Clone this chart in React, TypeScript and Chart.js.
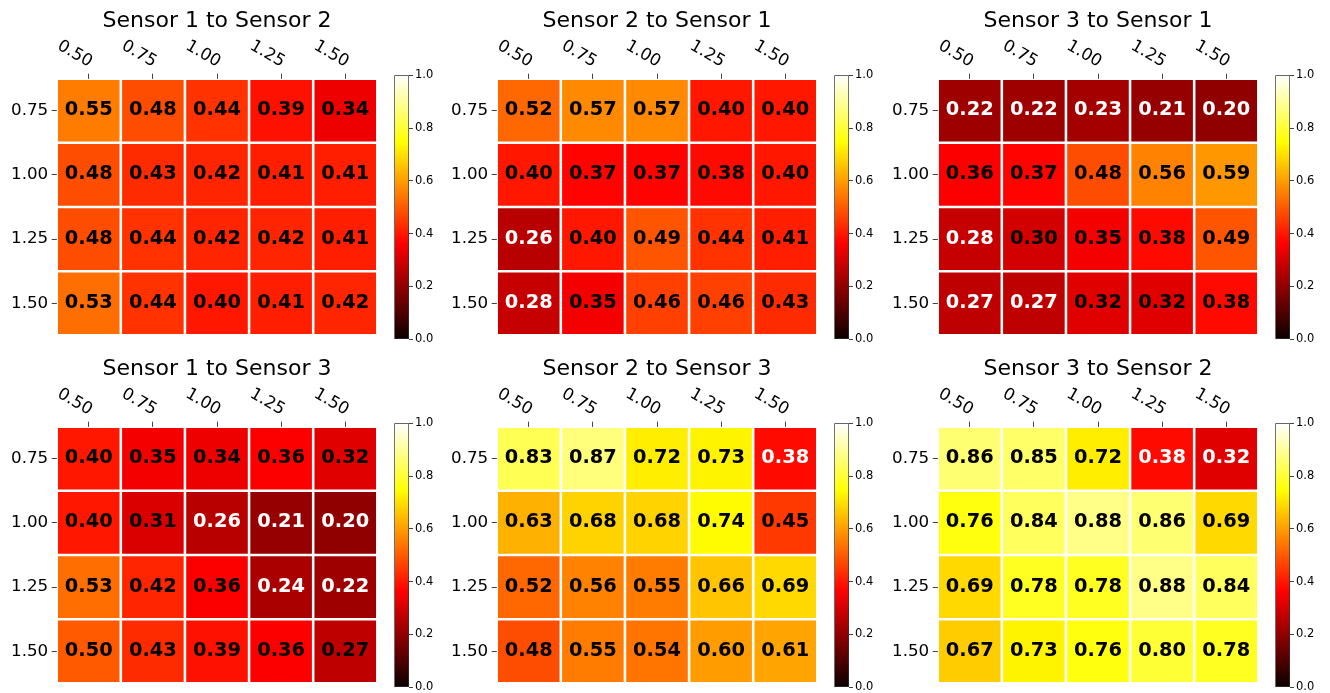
import React, { useEffect, useRef } from "react";
import { Chart, registerables } from "chart.js";

Chart.register(...registerables);
Chart.defaults.font.family = "'DejaVu Sans', sans-serif";

// ---- data ----
const xLabels = ["0.50", "0.75", "1.00", "1.25", "1.50"];
const yLabels = ["0.75", "1.00", "1.25", "1.50"];
const colorbarTicks = [0, 0.2, 0.4, 0.6, 0.8, 1.0];

const titles = [
  "Sensor 1 to Sensor 2",
  "Sensor 2 to Sensor 1",
  "Sensor 3 to Sensor 1",
  "Sensor 1 to Sensor 3",
  "Sensor 2 to Sensor 3",
  "Sensor 3 to Sensor 2",
];

const s1to2 = [
  [0.55, 0.48, 0.44, 0.39, 0.34],
  [0.48, 0.43, 0.42, 0.41, 0.41],
  [0.48, 0.44, 0.42, 0.42, 0.41],
  [0.53, 0.44, 0.40, 0.41, 0.42],
];
const s2to1 = [
  [0.52, 0.57, 0.57, 0.40, 0.40],
  [0.40, 0.37, 0.37, 0.38, 0.40],
  [0.26, 0.40, 0.49, 0.44, 0.41],
  [0.28, 0.35, 0.46, 0.46, 0.43],
];
const s3to1 = [
  [0.22, 0.22, 0.23, 0.21, 0.20],
  [0.36, 0.37, 0.48, 0.56, 0.59],
  [0.28, 0.30, 0.35, 0.38, 0.49],
  [0.27, 0.27, 0.32, 0.32, 0.38],
];
const s1to3 = [
  [0.40, 0.35, 0.34, 0.36, 0.32],
  [0.40, 0.31, 0.26, 0.21, 0.20],
  [0.53, 0.42, 0.36, 0.24, 0.22],
  [0.50, 0.43, 0.39, 0.36, 0.27],
];
const s2to3 = [
  [0.83, 0.87, 0.72, 0.73, 0.38],
  [0.63, 0.68, 0.68, 0.74, 0.45],
  [0.52, 0.56, 0.55, 0.66, 0.69],
  [0.48, 0.55, 0.54, 0.60, 0.61],
];
const s3to2 = [
  [0.86, 0.85, 0.72, 0.38, 0.32],
  [0.76, 0.84, 0.88, 0.86, 0.69],
  [0.69, 0.78, 0.78, 0.88, 0.84],
  [0.67, 0.73, 0.76, 0.80, 0.78],
];
const matrices = [s1to2, s2to1, s3to1, s1to3, s2to3, s3to2];
// values below this cutoff get white annotation text
const whiteTextBelow = [0.3, 0.3, 0.29, 0.265, 0.4, 0.4];

// ---- matplotlib "hot" colormap ----
const HOT_STOPS: [number, number[]][] = [
  [0, [10.6, 0, 0]],
  [0.365079, [255, 0, 0]],
  [0.746032, [255, 255, 0]],
  [1, [255, 255, 255]],
];
function hot(v: number): string {
  const t = Math.max(0, Math.min(1, v));
  for (let i = 0; i < HOT_STOPS.length - 1; i++) {
    const [a, ca] = HOT_STOPS[i];
    const [b, cb] = HOT_STOPS[i + 1];
    if (t <= b) {
      const f = (t - a) / (b - a);
      const c = ca.map((x, k) => Math.round(x + (cb[k] - x) * f));
      return `rgb(${c[0]},${c[1]},${c[2]})`;
    }
  }
  return "rgb(255,255,255)";
}

const FONT = "'DejaVu Sans', sans-serif";
const TICK_COLOR = "#444";

function noPad(s: any) {
  s.paddingTop = 0;
  s.paddingBottom = 0;
  s.paddingLeft = 0;
  s.paddingRight = 0;
}

function Heatmap({ idx }: { idx: number }) {
  const heatRef = useRef<HTMLCanvasElement>(null);
  const barRef = useRef<HTMLCanvasElement>(null);
  const col = idx % 3;
  const row = Math.floor(idx / 3);
  const left = [0, 440, 881][col];
  const top = row * 348;

  useEffect(() => {
    const values = matrices[idx];
    const cutoff = whiteTextBelow[idx];

    const annotate = {
      id: "annotate",
      afterDatasetsDraw(chart: any) {
        const ctx = chart.ctx;
        ctx.save();
        ctx.font = `bold 19.4px ${FONT}`;
        ctx.textAlign = "center";
        ctx.textBaseline = "middle";
        chart.data.datasets.forEach((_: any, r: number) => {
          const meta = chart.getDatasetMeta(r);
          meta.data.forEach((bar: any, c: number) => {
            const p = bar.getProps(["x", "y", "base"], true);
            const v = values[r][c];
            ctx.fillStyle = v < cutoff ? "#fff" : "#000";
            ctx.fillText(v.toFixed(2), p.x, (p.y + p.base) / 2 - 0.5);
          });
        });
        ctx.restore();
      },
    };
    const topLabels = {
      id: "topLabels",
      afterDraw(chart: any) {
        const ctx = chart.ctx;
        const xs = chart.scales.x;
        ctx.save();
        ctx.font = `16.7px ${FONT}`;
        ctx.fillStyle = "#000";
        ctx.textAlign = "right";
        ctx.textBaseline = "alphabetic";
        xLabels.forEach((lab, i) => {
          const px = xs.getPixelForTick(i);
          ctx.save();
          ctx.translate(px, chart.chartArea.top - 11.7);
          ctx.rotate(Math.PI / 6);
          ctx.fillText(lab, 0, 0);
          ctx.restore();
        });
        ctx.restore();
      },
    };

    const heat = new Chart(heatRef.current!, {
      type: "bar",
      data: {
        labels: xLabels,
        datasets: yLabels.map((_, r) => ({
          label: yLabels[r],
          data: xLabels.map(() => [r, r + 1]),
          backgroundColor: values[r].map(hot),
          borderColor: "#ffffff",
          borderWidth: 1.6,
          borderSkipped: false,
          barPercentage: 1,
          categoryPercentage: 1,
          grouped: false,
        })) as any,
      },
      options: {
        responsive: false,
        animation: false,
        indexAxis: "x",
        layout: { padding: { left: 0, right: 2.7, top: 0, bottom: 4.7 } },
        plugins: {
          legend: { display: false },
          tooltip: { enabled: false },
          title: {
            display: true,
            fullSize: false,
            text: titles[idx],
            color: "#000",
            font: { size: 22, family: FONT, weight: "normal" as any },
            padding: { top: 8, bottom: 0 },
          },
        },
        scales: {
          x: {
            type: "category",
            position: "top",
            offset: true,
            ticks: { display: false },
            grid: {
              drawOnChartArea: false,
              drawTicks: true,
              tickLength: 5,
              tickColor: TICK_COLOR,
              tickWidth: 1,
              offset: false,
            },
            border: { display: false },
            afterFit: (s: any) => {
              s.height = 44.3;
              noPad(s);
            },
          },
          y: {
            type: "linear",
            min: 0,
            max: 4,
            reverse: true,
            afterBuildTicks: (s: any) => {
              s.ticks = yLabels.map((_, i) => ({ value: i + 0.5 }));
            },
            ticks: {
              autoSkip: false,
              color: "#000",
              font: { size: 16.7, family: FONT },
              padding: 3.5,
              callback: (_v: any, i: number) => yLabels[i],
            },
            grid: {
              drawOnChartArea: false,
              drawTicks: true,
              tickLength: 5,
              tickColor: TICK_COLOR,
              tickWidth: 1,
            },
            border: { display: false },
            afterFit: (s: any) => {
              s.width = 56.7;
              noPad(s);
            },
          },
        },
      } as any,
      plugins: [annotate, topLabels],
    });

    const cbar = new Chart(barRef.current!, {
      type: "bar",
      data: {
        labels: [""],
        datasets: [
          {
            data: [[0, 1]],
            backgroundColor: (context: any) => {
              const ca = context.chart.chartArea;
              if (!ca) return "#000";
              const g = context.chart.ctx.createLinearGradient(0, ca.bottom, 0, ca.top);
              HOT_STOPS.forEach(([s, c]) => g.addColorStop(s, `rgb(${c[0]},${c[1]},${c[2]})`));
              return g;
            },
            borderColor: "#333",
            borderWidth: 1,
            borderSkipped: false,
            barPercentage: 1,
            categoryPercentage: 1,
          },
        ] as any,
      },
      options: {
        responsive: false,
        animation: false,
        layout: { padding: { left: 0.3, right: 0, top: 8.3, bottom: 8.7 } },
        plugins: { legend: { display: false }, tooltip: { enabled: false }, title: { display: false } },
        scales: {
          x: { display: false },
          y: {
            type: "linear",
            position: "right",
            min: 0,
            max: 1,
            afterBuildTicks: (s: any) => {
              s.ticks = colorbarTicks.map((v) => ({ value: v }));
            },
            ticks: {
              autoSkip: false,
              color: "#000",
              font: { size: 11.5, family: FONT },
              padding: 2,
              callback: (v: any) => Number(v).toFixed(1),
            },
            grid: {
              drawOnChartArea: false,
              drawTicks: true,
              tickLength: 4,
              tickColor: TICK_COLOR,
              tickWidth: 1,
            },
            border: { display: false },
            afterFit: (s: any) => {
              s.width = 31;
              noPad(s);
            },
          },
        },
      } as any,
    });

    return () => {
      heat.destroy();
      cbar.destroy();
    };
  }, [idx]);

  return (
    <>
      <canvas
        ref={heatRef}
        width={380}
        height={340}
        style={{ position: "absolute", left, top, width: 380, height: 340 }}
      />
      <canvas
        ref={barRef}
        width={46}
        height={281}
        style={{ position: "absolute", left: left + 394, top: top + 67, width: 46, height: 281 }}
      />
    </>
  );
}

export default function App() {
  return (
    <div
      style={{
        position: "absolute",
        left: 0,
        top: 0,
        width: 1330,
        height: 693,
        background: "#fff",
        overflow: "hidden",
      }}
    >
      {titles.map((_, i) => (
        <Heatmap key={i} idx={i} />
      ))}
    </div>
  );
}
